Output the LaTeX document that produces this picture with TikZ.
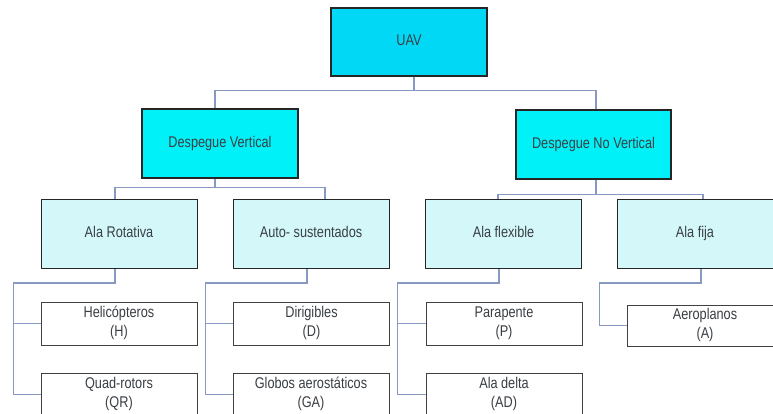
\documentclass[tikz,border=0pt]{standalone}
\usepackage{fontspec}
\setmainfont{Liberation Sans}
\usepackage{graphicx}
\usepackage{xcolor}
\definecolor{uavcyan}{HTML}{00D8F6}
\definecolor{levelcyan}{HTML}{00F2F8}
\definecolor{palecyan}{HTML}{D4F8FA}
\definecolor{linkblue}{HTML}{8799C0}
\definecolor{textgray}{HTML}{3A3F44}
% narrow text, as in the original chart
\newcommand{\squeezed}[2][0.82]{\scalebox{#1}[1]{\begin{tabular}{@{}c@{}}#2\end{tabular}}}

\begin{document}
\begin{tikzpicture}[
x=1pt, y=-1pt,
trait/.style={
	rectangle, inner sep=0pt,
	draw=black!85, line width=1.2pt,
	text=textgray, align=center,
	minimum width=156pt, minimum height=68pt,
	font=\fontsize{15.5}{18.5}\selectfont,
},
family/.style={
	trait, fill=palecyan, line width=1pt,
	minimum height=69pt,
},
leaf/.style={
	trait, fill=white, line width=0.9pt, draw=black!75,
	minimum height=43pt,
},
link/.style={draw=linkblue, line width=1.1pt},
]
\useasboundingbox (0,0) rectangle (773,414);

% top levels
\node[trait, fill=uavcyan] (uav) at (409,42) {\squeezed{UAV}};
\node[trait, fill=levelcyan, minimum height=69pt] (vertical) at (220,143.5) {\squeezed{Despegue Vertical}};
\node[trait, fill=levelcyan, minimum height=69pt, minimum width=155pt] (novertical) at (593.5,144.5) {\squeezed{Despegue No Vertical}};

% families
\node[family] (rotativa) at (119,234) {\squeezed{Ala Rotativa}};
\node[family] (autosust) at (311,234) {\squeezed{Auto- sustentados}};
\node[family] (flexible) at (503.5,234) {\squeezed{Ala flexible}};
\node[family] (fija) at (695,234) {\squeezed{Ala fija}};

% leaves
\node[leaf] (heli) at (119,323.5) {\squeezed{Helicópteros\\(H)}};
\node[leaf] (quad) at (119,394.5) {\squeezed{Quad-rotors\\(QR)}};
\node[leaf] (dirig) at (311.5,323.5) {\squeezed{Dirigibles\\(D)}};
\node[leaf] (globos) at (311,394.5) {\squeezed{Globos aerostáticos\\(GA)}};
\node[leaf] (parap) at (504,323.5) {\squeezed{Parapente\\(P)}};
\node[leaf] (delta) at (504,394.5) {\squeezed{Ala delta\\(AD)}};
\node[leaf, minimum height=41pt] (aero) at (705,325.5) {\squeezed{Aeroplanos\\(A)}};

% connectors
\draw[link] ([xshift=5pt]uav.south) -- ++(0,14) -| ([xshift=-5pt]vertical.north);
\draw[link] ([xshift=5pt]uav.south) -- ++(0,14) -| ([xshift=2.5pt]novertical.north);
\draw[link] ([xshift=-5pt]vertical.south) -- ++(0,9) -| ([xshift=-4pt]rotativa.north);
\draw[link] ([xshift=-5pt]vertical.south) -- ++(0,9) -| ([xshift=14pt]autosust.north);
\draw[link] ([xshift=2.5pt]novertical.south) -- ++(0,15) -| ([xshift=-5.5pt]flexible.north);
\draw[link] ([xshift=2.5pt]novertical.south) -- ++(0,15) -| ([xshift=8pt]fija.north);

\draw[link] ([xshift=-4pt]rotativa.south) -- ++(0,14) -| ([xshift=-27pt]quad.west) -- (quad.west);
\draw[link] ([xshift=-27pt]heli.west) -- (heli.west);
\draw[link] ([xshift=-4pt]autosust.south) -- ++(0,14) -| ([xshift=-27pt]globos.west) -- (globos.west);
\draw[link] ([xshift=-27pt]dirig.west) -- (dirig.west);
\draw[link] ([xshift=-4.5pt]flexible.south) -- ++(0,14) -| ([xshift=-28pt]delta.west) -- (delta.west);
\draw[link] ([xshift=-28pt]parap.west) -- (parap.west);
\draw[link] ([xshift=6pt]fija.south) -- ++(0,14) -| ([xshift=-27pt]aero.west) -- (aero.west);
\end{tikzpicture}
\end{document}
